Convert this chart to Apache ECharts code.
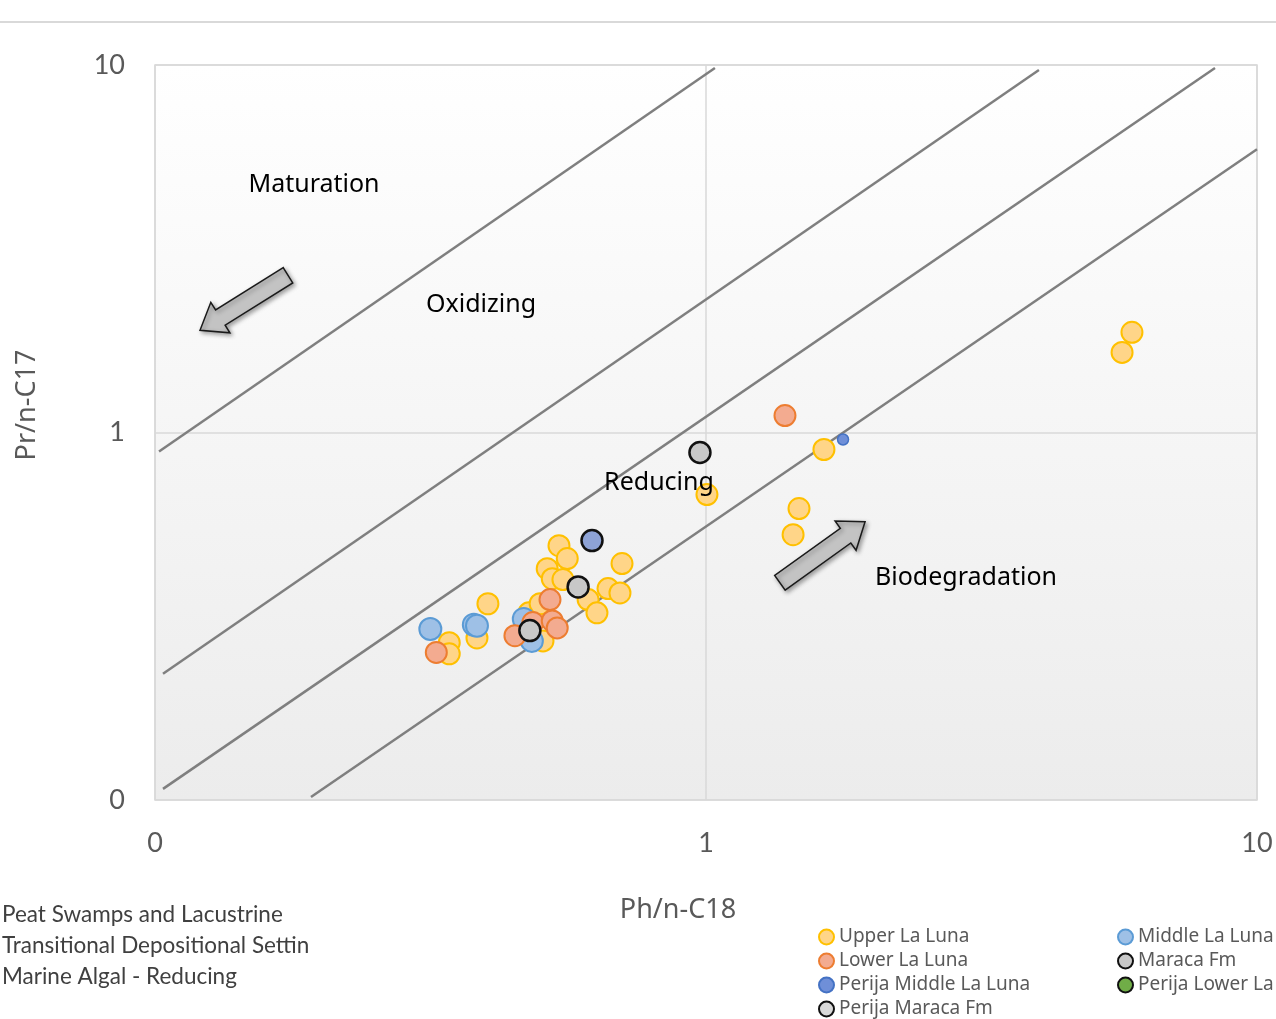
<!DOCTYPE html>
<html>
<head>
<meta charset="utf-8">
<script src="https://cdn.jsdelivr.net/npm/echarts@6/dist/echarts.min.js"></script>
<style>
  html, body { margin: 0; padding: 0; background: #fff; }
  #chart { width: 1276px; height: 1019px; }
</style>
</head>
<body>
<div id="chart"></div>
<script>
// axis ticks and their printed labels
var tickValues = [0.1, 1, 10];
var tickLabels = ['0', '1', '10'];

// Ph/n-C18 (x) and Pr/n-C17 (y)
var upperX = [0.342, 0.342, 0.402, 0.384, 0.477, 0.500, 0.506, 0.541, 0.560, 0.515, 0.526, 0.550, 0.611, 0.634, 0.664, 0.698, 0.704, 1.004, 1.637, 1.475, 1.439, 5.93, 5.69];
var upperY = [0.268, 0.250, 0.342, 0.276, 0.323, 0.342, 0.271, 0.492, 0.454, 0.426, 0.400, 0.398, 0.351, 0.323, 0.376, 0.366, 0.440, 0.678, 0.899, 0.621, 0.527, 1.873, 1.652];

var middleX = [0.316, 0.379, 0.384, 0.467, 0.483];
var middleY = [0.292, 0.300, 0.298, 0.311, 0.271];

var lowerX = [0.324, 0.450, 0.485, 0.521, 0.526, 0.537, 1.391];
var lowerY = [0.252, 0.280, 0.304, 0.351, 0.307, 0.294, 1.112];

var maracaX = [0.479, 0.586, 0.975];
var maracaY = [0.289, 0.380, 0.882];

var perijaMiddleX = [1.773];
var perijaMiddleY = [0.957];

var perijaLowerX = [];
var perijaLowerY = [];

var perijaMaracaX = [0.621];
var perijaMaracaY = [0.508];

// boundary lines (start / end points)
var line1 = [[0.1017, 0.888], [1.038, 9.81]];
var line2 = [[0.1034, 0.2205], [4.02, 9.69]];
var line3 = [[0.1034, 0.1072], [8.39, 9.81]];
var line4 = [[0.1919, 0.1019], [10, 5.90]];

// arrows: tail x, tail y, head x, head y
var arrows = [[0.1743, 2.678, 0.1207, 1.897], [1.362, 0.390, 1.944, 0.572]];

function pairs(xs, ys) {
  var out = [];
  for (var i = 0; i < xs.length; i++) out.push([xs[i], ys[i]]);
  return out;
}

function tickFmt(v) {
  for (var i = 0; i < tickValues.length; i++) {
    if (Math.abs(v - tickValues[i]) < 1e-9) return tickLabels[i];
  }
  return '';
}

var chart = echarts.init(document.getElementById('chart'));

function lineSeries(name, data) {
  return {
    name: name,
    type: 'line',
    data: data,
    symbol: 'none',
    silent: true,
    lineStyle: { color: '#7f7f7f', width: 2.5 },
    z: 2
  };
}

function dotSeries(name, data, fill, border, size, bw) {
  return {
    name: name,
    type: 'scatter',
    data: data,
    symbolSize: size,
    itemStyle: { color: fill, borderColor: border, borderWidth: bw, opacity: 1 },
    z: 5
  };
}

var perijaMaracaData = pairs(perijaMaracaX, perijaMaracaY).map(function (p) {
  return { value: p, itemStyle: { color: '#8ea3d6' } };
});

var labelFont = 'Lato, "Noto Sans", sans-serif';
var noteFont = '"Noto Sans", sans-serif';

function legendBox(left, names) {
  return {
    orient: 'vertical', left: left, top: 925, height: 110,
    padding: 0,
    itemWidth: 15, itemHeight: 15, itemGap: 0,
    icon: 'circle',
    textStyle: { color: '#595959', fontSize: 19, lineHeight: 24, fontFamily: noteFont },
    data: names,
    selectedMode: false
  };
}

function note(text, x, y) {
  return {
    type: 'text', x: x, y: y, z: 10,
    style: { text: text, fill: '#000', fontSize: 25, fontFamily: noteFont, align: 'center', verticalAlign: 'middle' }
  };
}

function sideText(text, y) {
  return {
    type: 'text', x: 2, y: y,
    style: { text: text, fill: '#404040', fontSize: 22.5, fontFamily: labelFont, verticalAlign: 'middle' }
  };
}

var option = {
  animation: false,
  backgroundColor: '#ffffff',
  grid: {
    left: 155, right: 19, top: 65, bottom: 219,
    show: true,
    borderColor: '#d9d9d9',
    borderWidth: 1.5,
    backgroundColor: {
      type: 'linear', x: 0, y: 0, x2: 0, y2: 1,
      colorStops: [{ offset: 0, color: '#ffffff' }, { offset: 1, color: '#ececec' }]
    }
  },
  xAxis: {
    type: 'log', logBase: 10, min: 0.1, max: 10,
    axisLine: { show: false },
    axisTick: { show: false },
    splitLine: { show: true, lineStyle: { color: '#d9d9d9', width: 1.5 } },
    axisLabel: { formatter: tickFmt, margin: 30, color: '#595959', fontSize: 27, fontFamily: labelFont }
  },
  yAxis: {
    type: 'log', logBase: 10, min: 0.1, max: 10,
    axisLine: { show: false },
    axisTick: { show: false },
    splitLine: { show: true, lineStyle: { color: '#d9d9d9', width: 1.5 } },
    axisLabel: { formatter: tickFmt, margin: 30, color: '#595959', fontSize: 27, fontFamily: labelFont }
  },
  legend: [
    legendBox(818, ['Upper La Luna', 'Lower La Luna', 'Perija Middle La Luna', 'Perija Maraca Fm']),
    legendBox(1117, ['Middle La Luna', 'Maraca Fm', 'Perija Lower La Luna'])
  ],
  series: [
    lineSeries('l1', line1),
    lineSeries('l2', line2),
    lineSeries('l3', line3),
    lineSeries('l4', line4),
    {
      name: 'arrows',
      type: 'custom',
      data: arrows,
      encode: { x: [0, 2], y: [1, 3] },
      silent: true,
      z: 4,
      renderItem: function (params, api) {
        var a = api.coord([api.value(0), api.value(1)]);
        var b = api.coord([api.value(2), api.value(3)]);
        var dx = b[0] - a[0], dy = b[1] - a[1];
        var len = Math.sqrt(dx * dx + dy * dy);
        var ux = dx / len, uy = dy / len;
        var nx = -uy, ny = ux;
        var sw = 9, hw = 18, hl = 24;
        var hx = b[0] - ux * hl, hy = b[1] - uy * hl;
        var pts = [
          [a[0] + nx * sw, a[1] + ny * sw],
          [hx + nx * sw, hy + ny * sw],
          [hx + nx * hw, hy + ny * hw],
          [b[0], b[1]],
          [hx - nx * hw, hy - ny * hw],
          [hx - nx * sw, hy - ny * sw],
          [a[0] - nx * sw, a[1] - ny * sw]
        ];
        return {
          type: 'polygon',
          shape: { points: pts },
          style: {
            fill: '#c3c3c3', stroke: '#1a1a1a', lineWidth: 1.5,
            shadowBlur: 4, shadowColor: 'rgba(0,0,0,0.35)', shadowOffsetX: 2, shadowOffsetY: 2
          }
        };
      }
    },
    dotSeries('Upper La Luna', pairs(upperX, upperY), '#ffd588', '#ffc000', 21, 2),
    dotSeries('Middle La Luna', pairs(middleX, middleY), '#9ec0e6', '#5b9bd5', 22, 2),
    dotSeries('Lower La Luna', pairs(lowerX, lowerY), '#f3ab90', '#ed7d31', 21, 2),
    dotSeries('Maraca Fm', pairs(maracaX, maracaY), '#c8c8c8', '#111111', 21, 2.5),
    dotSeries('Perija Middle La Luna', pairs(perijaMiddleX, perijaMiddleY), '#6f8fd8', '#4472c4', 11, 1.5),
    dotSeries('Perija Lower La Luna', pairs(perijaLowerX, perijaLowerY), '#70ad47', '#111111', 21, 2.5),
    dotSeries('Perija Maraca Fm', perijaMaracaData, '#d9d9d9', '#111111', 21, 2.5)
  ],
  graphic: [
    { type: 'line', shape: { x1: 0, y1: 22, x2: 1276, y2: 22 }, style: { stroke: '#d9d9d9', lineWidth: 2 }, silent: true },
    note('Maturation', 314, 185),
    note('Oxidizing', 481, 305),
    note('Reducing', 659, 483),
    note('Biodegradation', 966, 578),
    {
      type: 'text', x: 678, y: 910,
      style: { text: 'Ph/n-C18', fill: '#595959', fontSize: 27, fontFamily: noteFont, align: 'center', verticalAlign: 'middle' }
    },
    {
      type: 'text', x: 27, y: 405, rotation: Math.PI / 2,
      style: { text: 'Pr/n-C17', fill: '#595959', fontSize: 27, fontFamily: noteFont, align: 'center', verticalAlign: 'middle' }
    },
    sideText('Peat Swamps and Lacustrine', 915),
    sideText('Transitional Depositional Settin', 946),
    sideText('Marine Algal - Reducing', 977)
  ]
};

chart.setOption(option);

window.addEventListener('resize', function () {
  setTimeout(function () { chart.resize(); }, 200);
});
</script>
</body>
</html>
